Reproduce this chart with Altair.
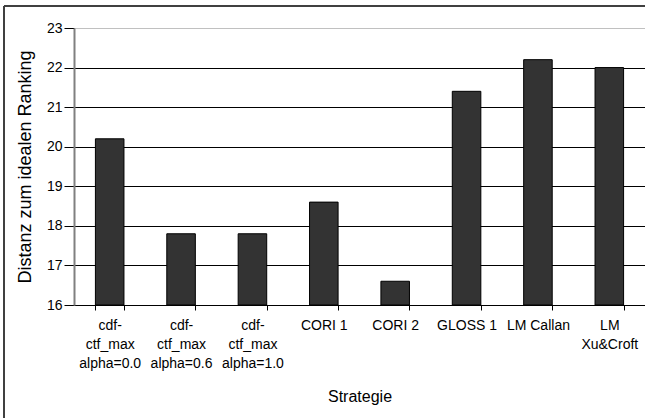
import altair as alt
import pandas as pd

categories = [
    "cdf-|ctf_max|alpha=0.0",
    "cdf-|ctf_max|alpha=0.6",
    "cdf-|ctf_max|alpha=1.0",
    "CORI 1",
    "CORI 2",
    "GLOSS 1",
    "LM Callan",
    "LM|Xu&Croft",
]
values = [20.2, 17.8, 17.8, 18.6, 16.6, 21.4, 22.2, 22.0]
y_ticks = [16, 17, 18, 19, 20, 21, 22, 23]

df = pd.DataFrame({"Strategie": categories, "Distanz": values})

FONT = "Liberation Sans"

bars = alt.Chart(df).mark_bar(
    color="#333333", stroke="#000000", strokeWidth=1
).encode(
    x=alt.X(
        "Strategie:N",
        sort=categories,
        scale=alt.Scale(paddingInner=0.6, paddingOuter=0.3),
        axis=alt.Axis(
            title="Strategie",
            labelAngle=0,
            labelExpr="split(datum.label, '|')",
            tickBand="extent",
            domainColor="#000000",
            tickColor="#000000",
            tickSize=5,
            labelFontSize=14,
            labelLineHeight=19,
            labelPadding=8,
            labelColor="#000000",
            labelFont=FONT,
            titleFont=FONT,
            titleFontSize=16,
            titleFontWeight="normal",
            titleColor="#000000",
            titlePadding=18,
            grid=False,
        ),
    ),
    y=alt.Y(
        "Distanz:Q",
        scale=alt.Scale(domain=[16, 23], nice=False, zero=False),
        axis=alt.Axis(
            title="Distanz zum idealen Ranking",
            values=y_ticks,
            grid=True,
            gridColor={
                "condition": {"test": "datum.value === 23", "value": "#c0c0c0"},
                "value": "#000000",
            },
            gridWidth=1,
            domainColor="#808080",
            domainWidth=2,
            tickColor="#000000",
            tickSize=10,
            labelPadding=2,
            labelFontSize=14,
            labelColor="#000000",
            labelFont=FONT,
            titleFont=FONT,
            titleFontSize=18,
            titleFontWeight="normal",
            titleColor="#000000",
            titlePadding=12,
        ),
    ),
    y2=alt.datum(16),
)

frame_top = alt.Chart(df).mark_rule(color="#404040", strokeWidth=2, clip=False).encode(
    x=alt.value(-70), x2=alt.value(700), y=alt.value(-22)
)
frame_left = alt.Chart(df).mark_rule(color="#404040", strokeWidth=2, clip=False).encode(
    x=alt.value(-70), y=alt.value(-22), y2=alt.value(500)
)

chart = alt.layer(bars, frame_top, frame_left).properties(
    width=571,
    height=277,
    autosize=alt.AutoSizeParams(type="none"),
    padding={"left": 74, "top": 28, "right": 0, "bottom": 113},
    background="white",
).configure_view(stroke=None).configure(font=FONT)

chart.save("out.html", embed_options={"renderer": "svg", "actions": False})
